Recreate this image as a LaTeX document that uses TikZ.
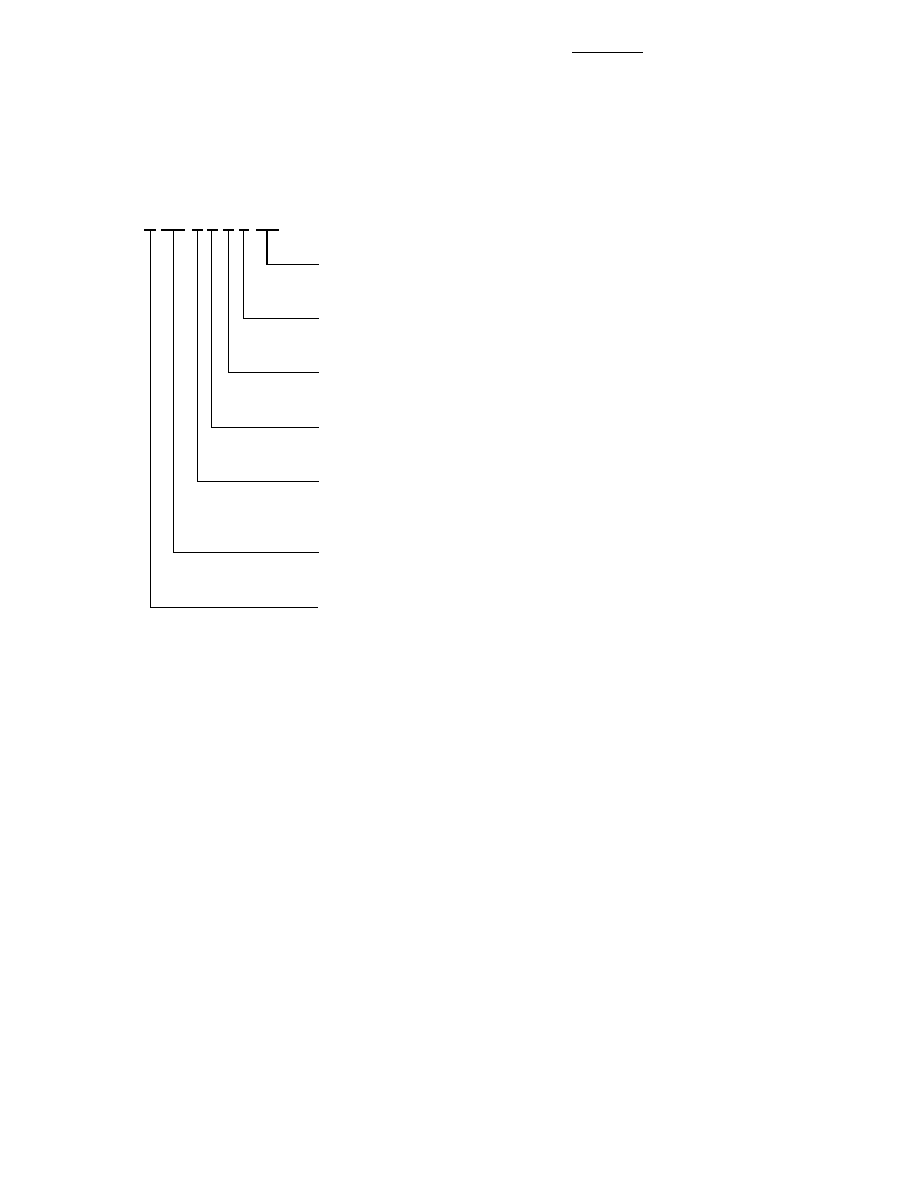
\documentclass[tikz,border=0pt]{standalone}
\begin{document}
\begin{tikzpicture}[x=0.6692pt,y=-0.6692pt,
  bar/.style={line width=1.1pt},
  lead/.style={line width=0.75pt}]
\useasboundingbox (0,0) rectangle (918,1188);
% top rule
\coordinate (r1) at (572,52.3);
\coordinate (r2) at (643,52.3);
\draw[lead] (r1) -- (r2);
% bars
\foreach \n/\a/\b in {1/144/156,2/161/185,3/192/203,4/207/217.5,5/223/233.5,6/239/249,7/256/278.5}{
  \coordinate (b\n l) at (\a,230);
  \coordinate (b\n r) at (\b,230);
  \draw[bar] (b\n l) -- (b\n r);
}
% leaders: bar number / x of drop / y of turn / right end
\foreach \n/\x/\y/\e in {7/267/264.3/319,6/243.3/318.7/319,5/228.3/372.3/319,4/211.3/427.3/319,3/197.7/481.3/319,2/173.3/552.3/319,1/150.7/607.3/318}{
  \coordinate (t\n) at (\x,230);
  \coordinate (c\n) at (\x,\y);
  \coordinate (e\n) at (\e,\y);
  \draw[lead] (t\n) -- (c\n) -- (e\n);
}
\end{tikzpicture}
\end{document}
